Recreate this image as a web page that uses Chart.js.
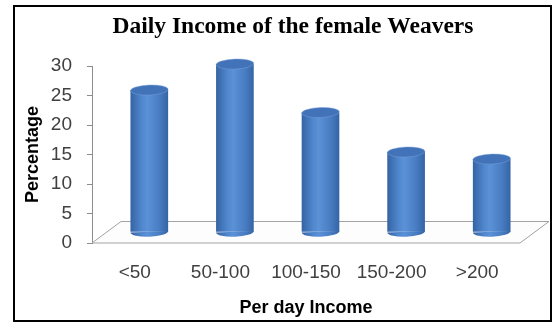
<!DOCTYPE html>
<html>
<head>
<meta charset="utf-8">
<script src="https://cdn.jsdelivr.net/npm/chart.js@4.4.1/dist/chart.umd.min.js"></script>
<style>
    html, body { margin: 0; padding: 0; background: #fff; }
    #chart { display: block; }
</style>
</head>
<body>
<canvas id="chart" width="553" height="323"></canvas>
<script>
// Chart data
const incomeGroups = ['<50', '50-100', '100-150', '150-200', '>200'];
const percentages = [24.1, 28.5, 20.3, 13.6, 12.4];
const yTicks = [0, 5, 10, 15, 20, 25, 30];

const chartTitle = 'Daily Income of the female Weavers';
const xTitle = 'Per day Income';
const yTitle = 'Percentage';

// fake 3D: floor depth, bars sit half way back
const depthX = 29, depthY = -21.5;
const capRy = 5;
const capRot = -0.04;
const barPct = 0.44;

function barGradient(ctx, x0, x1) {
    const g = ctx.createLinearGradient(x0, 0, x1, 0);
    g.addColorStop(0, '#3563a4');
    g.addColorStop(0.3, '#5087cd');
    g.addColorStop(0.45, '#5b91d6');
    g.addColorStop(0.75, '#4a7ec4');
    g.addColorStop(1, '#3464a5');
    return g;
}

const look3d = {
    id: 'look3d',
    beforeDraw(chart) {
        const c = chart.ctx;
        c.save();
        c.fillStyle = '#fff';
        c.fillRect(0, 0, chart.width, chart.height);
        c.strokeStyle = '#000';
        c.lineWidth = 2;
        c.strokeRect(14, 6, 537, 315);
        c.restore();
    },
    beforeDatasetsDraw(chart) {
        const c = chart.ctx;
        const a = chart.chartArea;
        // floor
        c.save();
        c.beginPath();
        c.moveTo(a.left, a.bottom);
        c.lineTo(a.right, a.bottom);
        c.lineTo(a.right + depthX, a.bottom + depthY);
        c.lineTo(a.left + depthX, a.bottom + depthY);
        c.closePath();
        c.fillStyle = '#fdfdfd';
        c.fill();
        c.strokeStyle = '#a3a3a3';
        c.lineWidth = 1;
        c.stroke();
        c.restore();
        // shift bars to mid depth
        c.save();
        c.translate(depthX / 2, depthY / 2);
    },
    afterDatasetDraw(chart, args) {
        const c = chart.ctx;
        args.meta.data.forEach(el => {
            const { x, y, base, width } = el.getProps(['x', 'y', 'base', 'width'], true);
            if (![x, y, base, width].every(Number.isFinite)) return;
            const rx = width / 2;
            c.save();
            c.beginPath();
            c.ellipse(x, base, rx, capRy, capRot, 0, Math.PI);
            c.fillStyle = barGradient(c, x - rx, x + rx);
            c.fill();
            c.beginPath();
            c.ellipse(x, y, rx, capRy, capRot, 0, Math.PI * 2);
            c.fillStyle = '#4273b8';
            c.fill();
            c.strokeStyle = 'rgba(120,160,220,0.6)';
            c.lineWidth = 0.8;
            c.stroke();
            c.restore();
        });
    },
    afterDatasetsDraw(chart) {
        chart.ctx.restore();
    },
    afterDraw(chart) {
        const c = chart.ctx;
        c.save();
        c.font = 'bold 23.5px "Liberation Serif", "Times New Roman", serif';
        c.fillStyle = '#000';
        c.textAlign = 'center';
        c.textBaseline = 'alphabetic';
        c.fillText(chartTitle, 293, 33);
        c.restore();
    }
};

Chart.defaults.font.family = '"Liberation Sans", Arial, sans-serif';

new Chart(document.getElementById('chart'), {
    type: 'bar',
    data: {
        labels: incomeGroups,
        datasets: [{
            label: yTitle,
            data: percentages,
            clip: false,
            borderWidth: 0,
            categoryPercentage: 1,
            barPercentage: barPct,
            backgroundColor: (ctx) => {
                const xs = ctx.chart.scales.x;
                if (!xs || ctx.dataIndex == null) return '#4f81bd';
                const cx = xs.getPixelForValue(ctx.dataIndex);
                const half = xs.width / incomeGroups.length * barPct / 2;
                if (!Number.isFinite(cx) || !Number.isFinite(half)) return '#4f81bd';
                return barGradient(ctx.chart.ctx, cx - half, cx + half);
            }
        }]
    },
    options: {
        responsive: false,
        animation: false,
        layout: { padding: { left: 14, right: 33, top: 66, bottom: 0 } },
        plugins: {
            legend: { display: false },
            tooltip: { enabled: false }
        },
        scales: {
            x: {
                grid: { display: false, drawTicks: false },
                border: { display: false },
                ticks: { color: '#404040', font: { size: 19 }, padding: 18 },
                title: {
                    display: true, text: xTitle, color: '#000',
                    font: { size: 18, weight: 'bold' },
                    padding: { top: 0, bottom: 4 }
                },
                afterFit(s) { s.height = 80; }
            },
            y: {
                min: 0,
                max: 30,
                afterBuildTicks(s) { s.ticks = yTicks.map(v => ({ value: v })); },
                grid: { drawOnChartArea: false, drawTicks: true, tickLength: 5, color: '#8c8c8c' },
                border: { display: true, color: '#8c8c8c' },
                ticks: { color: '#404040', font: { size: 19 }, padding: 15 },
                title: {
                    display: true, text: yTitle, color: '#000',
                    font: { size: 18, weight: 'bold' },
                    padding: { top: 8, bottom: 0 }
                },
                afterFit(s) { s.width = 78; }
            }
        }
    },
    plugins: [look3d]
});
</script>
</body>
</html>
